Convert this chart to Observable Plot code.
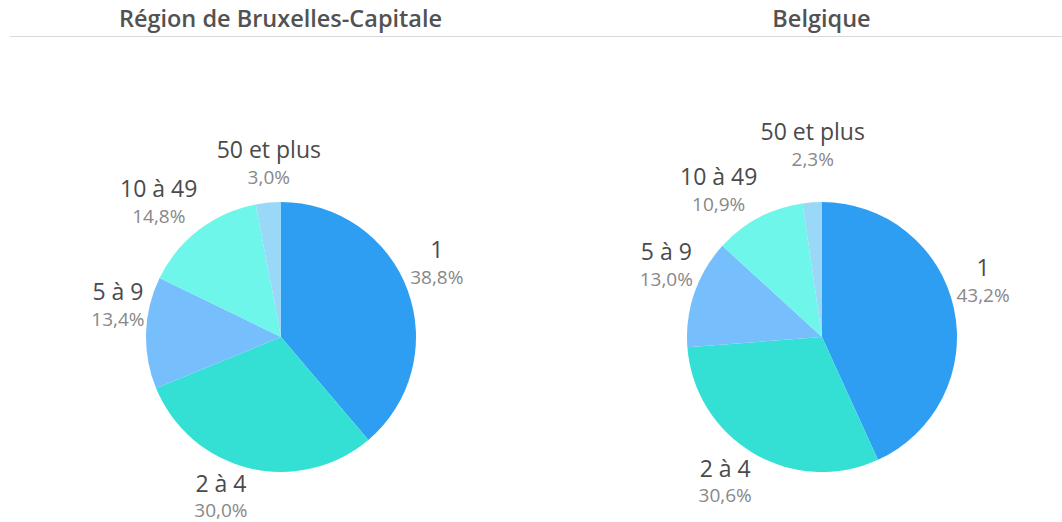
<!DOCTYPE html>
<html>
<head>
<meta charset="utf-8">
<script src="https://cdn.jsdelivr.net/npm/d3@7"></script>
<script src="https://cdn.jsdelivr.net/npm/@observablehq/plot@0.6"></script>
<style>
  html, body { margin: 0; padding: 0; background: #fff; overflow: hidden; }
  #wrap { position: relative; width: 1062px; height: 522px; overflow: hidden; font-family: "Open Sans", sans-serif; }
  #header { position: absolute; left: 10px; top: 0; width: 1052px; height: 36px; border-bottom: 1px solid #d9d9d9; }
  .title { position: absolute; top: 3px; font-size: 23.5px; font-weight: 600; line-height: 31px; color: #525252; text-align: center; white-space: nowrap; }
  #charts { position: absolute; left: 0; top: 37px; display: flex; }
  #charts svg { display: block; }
</style>
</head>
<body>
<div id="wrap">
  <div id="header"></div>
  <div id="charts"></div>
</div>
<script>
// ---- data ----
const regions = ["Région de Bruxelles-Capitale", "Belgique"];
const categories = ["1", "2 à 4", "5 à 9", "10 à 49", "50 et plus"];
const bruxelles = [38.8, 30.0, 13.4, 14.8, 3.0];
const belgique = [43.2, 30.6, 13.0, 10.9, 2.3];
const colors = ["#2e9ef3", "#34e0d4", "#76befc", "#6ef6ea", "#9ad8f8"];

// ---- layout constants ----
const R = 135;            // pie radius (px units)
const H = 485;            // svg height
const panels = [
  {name: regions[0], values: bruxelles, left: 0, width: 551, cx: 281},
  {name: regions[1], values: belgique, left: 551, width: 511, cx: 271}
];
const CAT_SIZE = 23, PCT_SIZE = 19;

const color = Plot.scale({color: {type: "ordinal", domain: categories, range: colors}});
const fmt = v => v.toFixed(1).replace(".", ",") + "%";

const ctx = document.createElement("canvas").getContext("2d");
function measure(text, size) {
  ctx.font = `${size}px "Open Sans"`;
  return ctx.measureText(text).width;
}

// header titles
const header = document.getElementById("header");
panels.forEach((p, i) => {
  const t = document.createElement("div");
  t.className = "title";
  t.textContent = p.name;
  t.style.width = "541px";
  t.style.left = (i === 0 ? 0 : 541) + "px";
  header.appendChild(t);
});

function buildRows(values) {
  const total = d3.sum(values);
  let cum = 0;
  const rows = categories.map((cat, i) => {
    const a0 = cum / total * 2 * Math.PI;
    cum += values[i];
    const a1 = cum / total * 2 * Math.PI;
    return {cat, value: values[i], pct: fmt(values[i]), a0, a1};
  });
  // label layout
  const placed = [];
  rows.forEach(d => {
    const m = (d.a0 + d.a1) / 2;
    const s = Math.sin(m), c = Math.cos(m);
    const ex = R * s, ey = R * c;
    const side = Math.abs(s) < 0.15 ? 0 : Math.sign(s);
    const w = Math.max(measure(d.cat, CAT_SIZE), measure(d.pct, PCT_SIZE));
    d.lx = ex + side * (w / 2 + 2);
    d.upper = c > 0;
    if (d.upper) {
      const gap = side === 0 ? 19 : 7;
      d.pctY = ey + gap;
      d.catY = d.pctY + 26;
    } else {
      d.catY = ey - 23;
      d.pctY = ey - 48;
    }
    // collision avoidance (y up): box from pctY-1 to catY+16
    for (const o of placed) {
      const x0 = d.lx - w / 2, x1 = d.lx + w / 2;
      const hOverlap = x0 < o.x1 + 8 && x1 > o.x0 - 8;
      const bot = d.pctY - 1, top = d.catY + 16;
      const vOverlap = bot < o.top + 2 && top > o.bot - 2;
      if (hOverlap && vOverlap) {
        if (d.upper) { const shift = o.top + 2 - bot; d.pctY += shift; d.catY += shift; }
        else { const shift = top - (o.bot - 2); d.pctY -= shift; d.catY -= shift; }
      }
    }
    placed.push({x0: d.lx - w / 2, x1: d.lx + w / 2, bot: d.pctY - 1, top: d.catY + 16});
  });
  return rows;
}

function pieMark(rows) {
  return (index, scales) => {
    const g = d3.create("svg:g");
    const cx = scales.x(0), cy = scales.y(0);
    const r = scales.x(R) - scales.x(0);
    const arc = d3.arc().innerRadius(0).outerRadius(r);
    g.attr("transform", `translate(${cx},${cy})`);
    g.selectAll("path").data(rows).join("path")
      .attr("d", d => arc({startAngle: d.a0, endAngle: d.a1}))
      .attr("fill", d => color.apply(d.cat));
    return g.node();
  };
}

const charts = document.getElementById("charts");
panels.forEach(p => {
  const rows = buildRows(p.values);
  const svg = Plot.plot({
    width: p.width,
    height: H,
    margin: 0,
    x: {domain: [-p.cx, p.width - p.cx], axis: null},
    y: {domain: [-(H - 300), 300], axis: null},
    style: {fontFamily: '"Open Sans", sans-serif', overflow: "visible", background: "transparent"},
    marks: [
      pieMark(rows),
      Plot.text(rows, {x: "lx", y: "catY", text: "cat", lineAnchor: "bottom", textAnchor: "middle",
        fontSize: CAT_SIZE, fill: "#4a4a4a"}),
      Plot.text(rows, {x: "lx", y: "pctY", text: "pct", lineAnchor: "bottom", textAnchor: "middle",
        fontSize: PCT_SIZE, fill: "#888"})
    ]
  });
  charts.appendChild(svg);
});
</script>
</body>
</html>
